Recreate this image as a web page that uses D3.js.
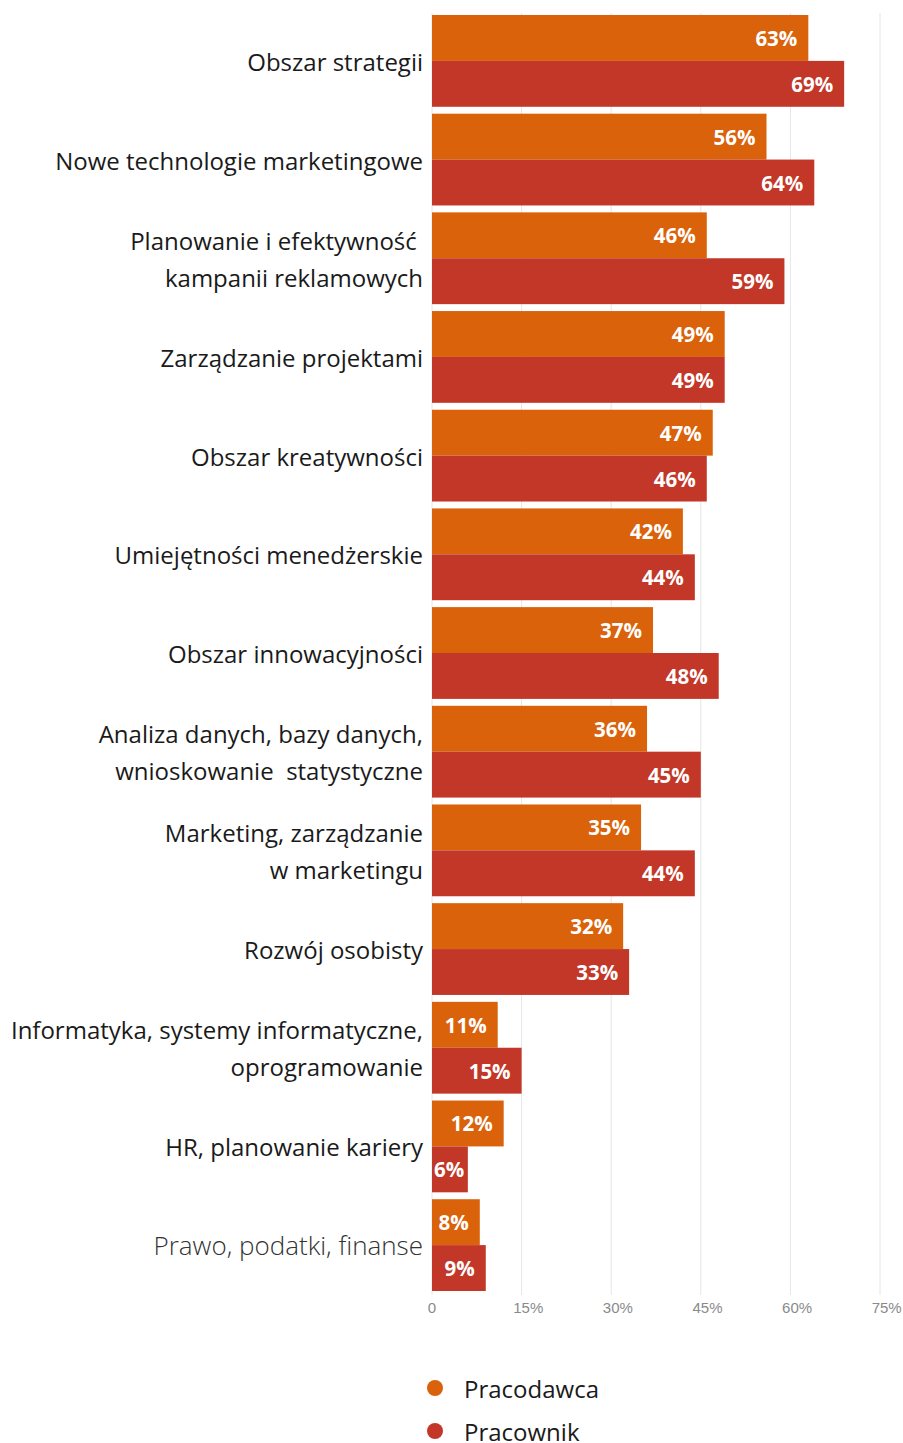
<!DOCTYPE html>
<html>
<head>
<meta charset="utf-8">
<script src="https://cdn.jsdelivr.net/npm/d3@7"></script>
<style>
  html, body { margin: 0; padding: 0; background: #fff; }
  svg { display: block; }
</style>
</head>
<body>
<svg id="chart" width="903" height="1443"></svg>
<script>
// Categories (each entry is the list of label lines)
const categories = [
  ["Obszar strategii"],
  ["Nowe technologie marketingowe"],
  ["Planowanie i efektywność ", "kampanii reklamowych"],
  ["Zarządzanie projektami"],
  ["Obszar kreatywności"],
  ["Umiejętności menedżerskie"],
  ["Obszar innowacyjności"],
  ["Analiza danych, bazy danych,", "wnioskowanie  statystyczne"],
  ["Marketing, zarządzanie", "w marketingu"],
  ["Rozwój osobisty"],
  ["Informatyka, systemy informatyczne,", "oprogramowanie"],
  ["HR, planowanie kariery"],
  ["Prawo, podatki, finanse"]
];
const pracodawca = [63, 56, 46, 49, 47, 42, 37, 36, 35, 32, 11, 12, 8];
const pracownik  = [69, 64, 59, 49, 46, 44, 48, 45, 44, 33, 15, 6, 9];
const seriesNames = ["Pracodawca", "Pracownik"];
const tickValues = [0, 15, 30, 45, 60, 75];

const colors = ["#D9620B", "#C23727"];

const svg = d3.select("#chart");
const x = d3.scaleLinear().domain([0, 75]).range([432, 880]);
const y = d3.scaleBand().domain(d3.range(categories.length)).range([15, 1291]).paddingInner(0.07).paddingOuter(0);
const sub = d3.scaleBand().domain([0, 1]).range([0, y.bandwidth()]);

// gridlines
svg.append("g").selectAll("line").data(tickValues).join("line")
  .attr("x1", d => x(d)).attr("x2", d => x(d))
  .attr("y1", 13).attr("y2", 1295)
  .attr("stroke", "#e6e6e6").attr("stroke-width", 1);

// axis labels: number centred on the gridline, "%" hanging to the right
const axisG = svg.append("g");
tickValues.forEach(v => {
  const t = axisG.append("text")
    .attr("y", 1309)
    .attr("dominant-baseline", "middle")
    .attr("font-family", "'Liberation Sans', Arial, sans-serif")
    .attr("font-size", 15)
    .attr("fill", "#8a8a8a")
    .text(String(v));
  const w = t.node().getComputedTextLength();
  t.attr("x", x(v) - w / 2).text(v === 0 ? "0" : v + "%");
});

// bars
const series = [pracodawca, pracownik];
series.forEach((vals, si) => {
  const g = svg.append("g");
  g.selectAll("rect").data(vals).join("rect")
    .attr("x", x(0))
    .attr("y", (d, i) => y(i) + sub(si))
    .attr("width", d => x(d) - x(0))
    .attr("height", sub.bandwidth())
    .attr("fill", colors[si]);

  g.selectAll("text").data(vals).join("text")
    .attr("y", (d, i) => y(i) + sub(si) + sub.bandwidth() / 2)
    .attr("dominant-baseline", "central")
    .attr("font-family", "'Open Sans', Lato, sans-serif")
    .attr("font-weight", 700)
    .attr("font-size", 20.5)
    .attr("fill", "#fff")
    .text(d => d + "%")
    .each(function(d) {
      const w = this.getComputedTextLength();
      const end = Math.max(x(d) - 11, x(0) + 2 + w);
      d3.select(this).attr("x", end).attr("text-anchor", "end");
    });
});

// category labels
const lineH = 37;
const labG = svg.append("g");
categories.forEach((lines, i) => {
  const cy = y(i) + y.bandwidth() / 2;
  const last = i === categories.length - 1;
  const t = labG.append("text")
    .attr("text-anchor", "end")
    .attr("font-family", "'Open Sans', Lato, sans-serif")
    .attr("font-weight", last ? 300 : 400)
    .attr("font-size", last ? 26 : 24)
    .attr("fill", last ? "#333" : "#1a1a1a")
    .attr("dominant-baseline", "central");
  lines.forEach((ln, k) => {
    t.append("tspan")
      .attr("x", 423)
      .attr("y", cy + (k - (lines.length - 1) / 2) * lineH)
      .style("white-space", "pre")
      .text(ln);
  });
});

// legend
const leg = svg.append("g");
seriesNames.forEach((name, i) => {
  const ly = 1388 + i * 43;
  leg.append("circle").attr("cx", 435).attr("cy", ly).attr("r", 8).attr("fill", colors[i]);
  leg.append("text").attr("x", 464).attr("y", ly)
    .attr("dominant-baseline", "central")
    .attr("font-family", "'Open Sans', Lato, sans-serif")
    .attr("font-size", 24)
    .attr("fill", "#1a1a1a")
    .text(name);
});
</script>
</body>
</html>
